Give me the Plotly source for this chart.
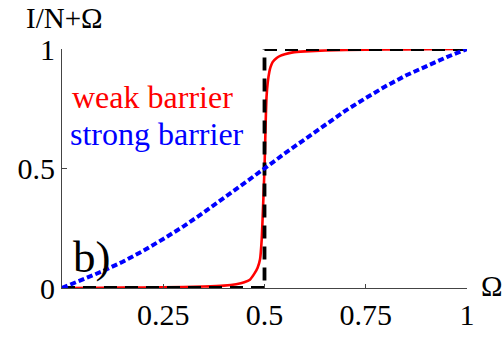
import plotly.graph_objects as go

# Weak barrier: steep step around Omega = 1/2
omega_weak = [0.0, 0.1, 0.2, 0.3, 0.35, 0.4, 0.43, 0.45, 0.464, 0.475, 0.483, 0.489,
              0.493, 0.496, 0.5, 0.503, 0.505, 0.508, 0.512, 0.515, 0.52, 0.53,
              0.54, 0.55, 0.57, 0.6, 0.65, 0.7, 0.8, 0.9, 1.0]
value_weak = [0.0, 0.001, 0.002, 0.004, 0.006, 0.01, 0.016, 0.024, 0.035, 0.06, 0.085, 0.12,
              0.2, 0.32, 0.5, 0.7, 0.8, 0.86, 0.905, 0.925, 0.945, 0.962,
              0.972, 0.978, 0.986, 0.99, 0.994, 0.996, 0.998, 0.999, 1.0]

# Strong barrier: smooth S-shaped curve
omega_strong = [0.0, 0.05, 0.1, 0.15, 0.2, 0.25, 0.3, 0.35, 0.4, 0.45, 0.5,
                0.55, 0.6, 0.65, 0.7, 0.75, 0.8, 0.85, 0.9, 0.95, 1.0]
value_strong = [0.0, 0.034, 0.07, 0.11, 0.155, 0.205, 0.258, 0.316, 0.376, 0.437, 0.5,
                0.563, 0.624, 0.684, 0.742, 0.795, 0.845, 0.89, 0.93, 0.966, 1.0]

# Ideal step reference
omega_step = [0.0, 0.5, 0.5, 1.0]
value_step = [0.0, 0.0, 1.0, 1.0]

x_tick_vals = [0.25, 0.5, 0.75, 1.0]
x_tick_text = ["0.25", "0.5", "0.75", "1"]
y_tick_vals = [0.0, 0.5, 1.0]
y_tick_text = ["0", "0.5", "1"]

serif = "Liberation Serif"

fig = go.Figure()
fig.add_trace(go.Scatter(x=omega_weak, y=value_weak, mode="lines",
                         line=dict(color="#ff0000", width=2.6, shape="spline", smoothing=0.6),
                         cliponaxis=False, hoverinfo="skip"))
fig.add_trace(go.Scatter(x=omega_step, y=value_step, mode="lines",
                         line=dict(color="black", width=3.8, dash="13px,8px"),
                         cliponaxis=False, hoverinfo="skip"))
fig.add_trace(go.Scatter(x=omega_strong, y=value_strong, mode="lines",
                         line=dict(color="#0000ff", width=4, dash="6px,3px"),
                         cliponaxis=False, hoverinfo="skip"))

axis_common = dict(showgrid=False, zeroline=False, showline=True, linecolor="#444",
                   linewidth=1, ticks="inside", tickcolor="#444", tickwidth=1,
                   tickfont=dict(family=serif, size=30, color="black"), fixedrange=True)

fig.update_layout(
    width=504, height=343,
    margin=dict(l=62, r=37, t=49, b=34),
    paper_bgcolor="white", plot_bgcolor="white",
    showlegend=False,
    xaxis=dict(range=[0, 1], tickvals=x_tick_vals, ticktext=x_tick_text, ticklen=4,
               **axis_common),
    yaxis=dict(range=[0, 1], tickvals=y_tick_vals, ticktext=y_tick_text, ticklen=5,
               **axis_common),
    annotations=[
        dict(text="I/N+Ω", x=0.0, y=1.0, xref="paper", yref="paper", xanchor="center",
             yanchor="bottom", xshift=2, yshift=13, showarrow=False,
             font=dict(family=serif, size=29, color="black")),
        dict(text="Ω", x=1.0, y=0.0, xref="paper", yref="paper", xanchor="left",
             yanchor="middle", xshift=12, yshift=2, showarrow=False,
             font=dict(family=serif, size=29, color="black")),
        dict(text="weak barrier", x=0.02, y=0.80, xref="x", yref="y", xanchor="left",
             yanchor="middle", showarrow=False,
             font=dict(family=serif, size=32, color="#ff0000")),
        dict(text="strong barrier", x=0.015, y=0.645, xref="x", yref="y", xanchor="left",
             yanchor="middle", showarrow=False,
             font=dict(family=serif, size=32, color="#0000ff")),
        dict(text="b)", x=0.022, y=0.128, xref="x", yref="y", xanchor="left",
             yanchor="middle", showarrow=False,
             font=dict(family=serif, size=45, color="black")),
    ],
)

fig.write_html("out.html")
